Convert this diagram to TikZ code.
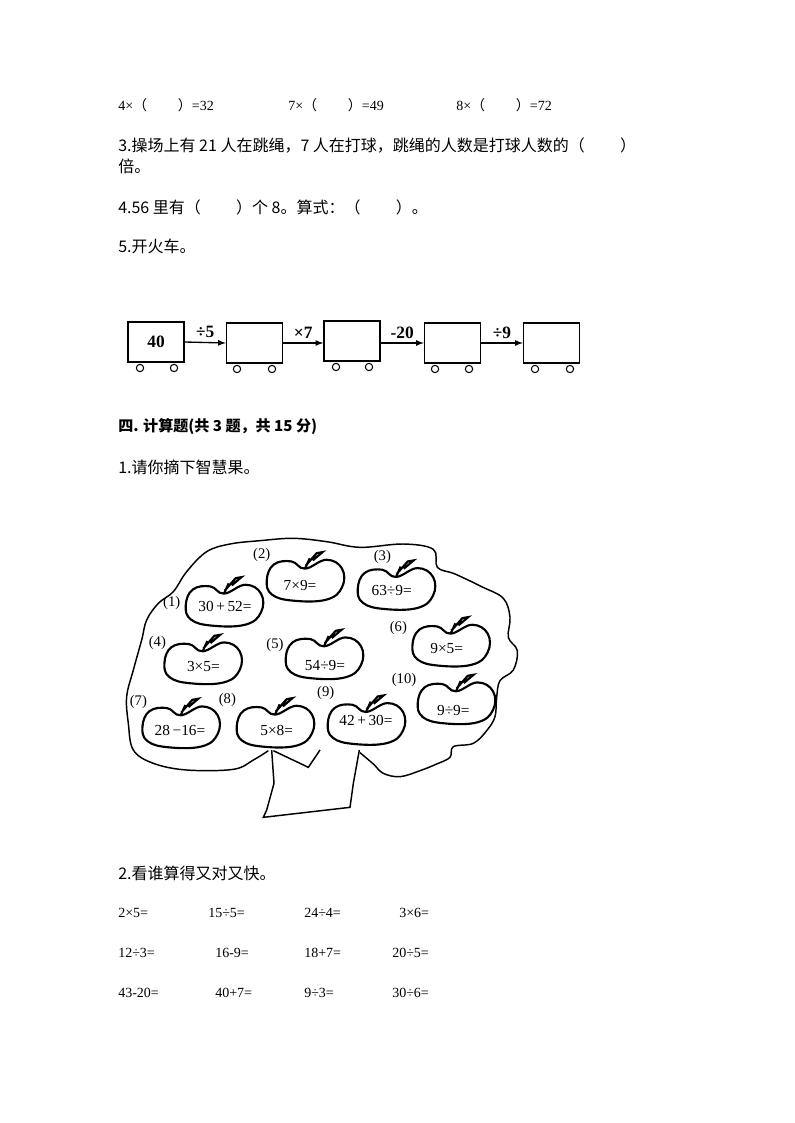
\documentclass[tikz,border=0pt]{standalone}
\usepackage{fontspec}
\setmainfont{Liberation Serif}
\newfontfamily\cjk{Noto Sans CJK SC}
\begin{document}
\begin{tikzpicture}[x=0.75pt,y=-0.75pt,
  txt/.style={anchor=west,inner sep=0,font=\fontsize{10.5pt}{11pt}\selectfont},
  ctxt/.style={anchor=west,inner sep=0,font=\cjk\fontsize{12pt}{13pt}\selectfont},
  car/.style={draw,line width=1pt,minimum width=42pt,minimum height=30pt,inner sep=0},
  wheel/.style={draw,line width=0.8pt,circle,minimum size=5.5pt,inner sep=0},
  op/.style={font=\bfseries\fontsize{13pt}{14pt}\selectfont,inner sep=0},
  eq/.style={font=\fontsize{11.5pt}{12pt}\selectfont,inner sep=0},
  num/.style={font=\fontsize{11pt}{12pt}\selectfont,inner sep=0},
  apple/.pic={
    \draw[line width=1.6pt] plot[smooth cycle,tension=0.7] coordinates{(0,-0.55) (0.55,-0.98) (0.95,-0.55) (0.95,0.35) (0.55,0.95) (-0.3,1) (-0.85,0.7) (-0.98,0) (-0.8,-0.75) (-0.35,-0.9)};
    \draw[line width=1.6pt] (0,-0.55) -- (0.12,-1.05) (0.02,-0.7) -- (0.3,-1.3) -- (0.45,-1.35) -- (0.2,-0.95);
  }]
\useasboundingbox (0,0) rectangle (794,1123);
\node[txt] (l1a) at (118,105) {4×{\cjk（\hspace{2.2em}）}=32};
\node[txt] (l1b) at (288,105) {7×{\cjk（\hspace{2.2em}）}=49};
\node[txt] (l1c) at (456,105) {8×{\cjk（\hspace{2.2em}）}=72};
\node[ctxt] (q3) at (118,146) {3.操场上有 21 人在跳绳，7 人在打球，跳绳的人数是打球人数的（\hspace{2.2em}）};
\node[ctxt] (q3b) at (118,166) {倍。};
\node[ctxt] (q4) at (118,207) {4.56 里有（\hspace{2.2em}）个 8。算式：（\hspace{2.2em}）。};
\node[ctxt] (q5) at (118,246) {5.开火车。};
% train
\node[car] (c1) at (156,342) {\bfseries\fontsize{13pt}{14pt}\selectfont 40};
\node[car] (c2) at (254.5,343) {};
\node[car] (c3) at (352,341) {};
\node[car] (c4) at (452.5,343) {};
\node[car] (c5) at (551.5,343) {};
\foreach \c/\a/\b/\y in {1/140/174/368,2/237/272/369,3/336/369/367,4/435/469/369,5/535/570/369}{
  \node[wheel] (w\c a) at (\a,\y) {};
  \node[wheel] (w\c b) at (\b,\y) {};
}
\draw[line width=1pt,-latex] (c1.east) -- (c2.west) node[op,midway,above=3pt] (o1) {÷5};
\draw[line width=1pt,-latex] (c2.east) -- (c3.west |- c2.east) node[op,midway,above=3pt] (o2) {×7};
\draw[line width=1pt,-latex] (c3.east |- c4.west) -- (c4.west) node[op,midway,above=3pt] (o3) {-20};
\draw[line width=1pt,-latex] (c4.east) -- (c5.west) node[op,midway,above=3pt] (o4) {÷9};
\node[ctxt,font=\cjk\fontsize{11.3pt}{13pt}\selectfont] (s4) at (118,427) {\bfseries 四. 计算题(共 3 题，共 15 分)};
\node[ctxt] (s41) at (118,467) {1.请你摘下智慧果。};
% tree
\begin{scope}[shift={(120,530)},x=0.25pt,y=-0.25pt]
\draw[line width=1.1pt] plot[smooth,tension=0.6] coordinates{(445,662) (400,690) (340,718) (200,720) (100,700) (40,660) (25,580) (20,500) (40,420) (65,330) (80,270) (115,220) (160,185) (200,125) (260,65) (330,42) (420,32) (520,25) (620,35) (720,52) (850,42) (940,58) (952,112) (1005,132) (1085,170) (1150,205) (1170,262) (1165,322) (1192,362) (1180,420) (1140,452) (1130,502) (1125,560) (1100,602) (1060,640) (1000,650) (990,682) (950,702) (900,722) (840,740) (790,730) (760,702) (720,668)};
\draw[line width=1.1pt] (455,660) -- (462,760) -- (440,840) -- (430,862) -- (690,832) -- (700,760) -- (718,660);
\draw[line width=1.1pt] (460,662) -- (565,712) -- (600,660);
\foreach \n/\x/\y in {1/312/225,2/555/150,3/828/175,4/248/398,5/612/383,6/992/345,7/182/590,8/465/588,9/738/580,10/1008/518}{
  \pic (ap\n) at (\x,\y) [xscale=117,yscale=62] {apple};
}
\node[eq] (e1) at (315,230) {30\,+\,52=};
\node[eq] (e2) at (540,165) {7×9=};
\node[eq] (e3) at (815,182) {63÷9=};
\node[eq] (e4) at (250,410) {3×5=};
\node[eq] (e5) at (615,405) {54÷9=};
\node[eq] (e6) at (980,355) {9×5=};
\node[eq] (e7) at (180,600) {28\,−16=};
\node[eq] (e8) at (470,602) {5×8=};
\node[eq] (e9) at (738,572) {42\,+\,30=};
\node[eq] (e10) at (1000,540) {9÷9=};
\foreach \n/\x/\y in {1/155/218,2/425/75,3/787/80,4/112/340,5/465/345,6/835/295,7/55/515,8/322/510,9/617/490,10/852/450}{
  \node[num] (n\n) at (\x,\y) {(\n)};
}
\end{scope}
\node[ctxt] (s42) at (118,873) {2.看谁算得又对又快。};
\node[txt] (a1) at (118,913) {2×5=};
\node[txt] (a2) at (208,913) {15÷5=};
\node[txt] (a3) at (304,913) {24÷4=};
\node[txt] (a4) at (399,913) {3×6=};
\node[txt] (b1) at (118,953) {12÷3=};
\node[txt] (b2) at (215,953) {16-9=};
\node[txt] (b3) at (304,953) {18+7=};
\node[txt] (b4) at (392,953) {20÷5=};
\node[txt] (d1) at (118,993) {43-20=};
\node[txt] (d2) at (215,993) {40+7=};
\node[txt] (d3) at (304,993) {9÷3=};
\node[txt] (d4) at (392,993) {30÷6=};
\end{tikzpicture}
\end{document}
